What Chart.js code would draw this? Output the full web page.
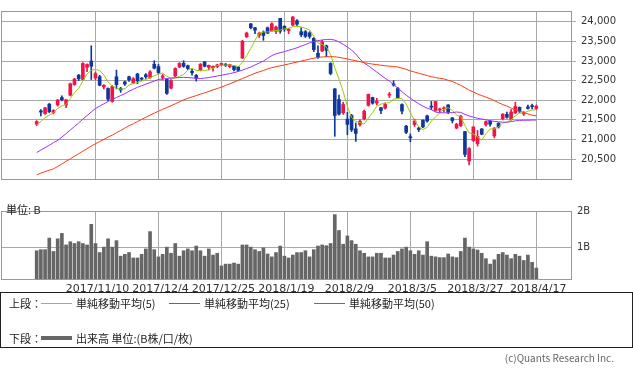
<!DOCTYPE html>
<html>
<head>
<meta charset="utf-8">
<script src="https://cdn.jsdelivr.net/npm/chart.js@4.4.0/dist/chart.umd.min.js"></script>
<style>
  body { margin: 0; background: #fff; width: 633px; height: 369px; overflow: hidden; position: relative;
         font-family: "Noto Sans CJK JP", sans-serif; color: #222; }
  canvas { position: absolute; left: 0; }
  #price { top: 0; }
  #volume { top: 200px; }
  .txt { position: absolute; font-size: 11px; white-space: nowrap; line-height: 12px; }
  #legend { position: absolute; left: 0; top: 292px; width: 631px; height: 54px; border: 1px solid #222; }
  .key { position: absolute; height: 1px; width: 31px; }
  #copy { position: absolute; right: 19px; top: 350px; font-size: 10px; color: #666; }
</style>
</head>
<body>
<canvas id="price" width="633" height="191"></canvas>
<canvas id="volume" width="633" height="96"></canvas>
<div class="txt" style="left:6px;top:203px;">単位: B</div>
<div id="legend">
  <div class="txt" style="left:8px;top:4px;">上段：</div>
  <div class="key" style="left:40px;top:10px;background:#99cc00;"></div>
  <div class="txt" style="left:75px;top:4px;">単純移動平均(5)</div>
  <div class="key" style="left:168px;top:10px;background:#9b30ff;"></div>
  <div class="txt" style="left:203px;top:4px;">単純移動平均(25)</div>
  <div class="key" style="left:313px;top:10px;background:#ff3a10;"></div>
  <div class="txt" style="left:348px;top:4px;">単純移動平均(50)</div>
  <div class="txt" style="left:8px;top:39px;">下段：</div>
  <div class="key" style="left:40px;top:43px;height:4px;background:#666;"></div>
  <div class="txt" style="left:75px;top:39px;">出来高 単位:(B株/口/枚)</div>
</div>
<div id="copy">(c)Quants Research Inc.</div>

<script>
'use strict';

// trading days shown
var days = [
  '2017/10/20','2017/10/23','2017/10/24','2017/10/25','2017/10/26','2017/10/27','2017/10/30','2017/10/31',
  '2017/11/1','2017/11/2','2017/11/6','2017/11/7','2017/11/8','2017/11/9','2017/11/10','2017/11/13',
  '2017/11/14','2017/11/15','2017/11/16','2017/11/17','2017/11/20','2017/11/21','2017/11/22','2017/11/24',
  '2017/11/27','2017/11/28','2017/11/29','2017/11/30','2017/12/1','2017/12/4','2017/12/5','2017/12/6',
  '2017/12/7','2017/12/8','2017/12/11','2017/12/12','2017/12/13','2017/12/14','2017/12/15','2017/12/18',
  '2017/12/19','2017/12/20','2017/12/21','2017/12/22','2017/12/25','2017/12/26','2017/12/27','2017/12/28',
  '2017/12/29','2018/1/4','2018/1/5','2018/1/9','2018/1/10','2018/1/11','2018/1/12','2018/1/15',
  '2018/1/16','2018/1/17','2018/1/18','2018/1/19','2018/1/22','2018/1/23','2018/1/24','2018/1/25',
  '2018/1/26','2018/1/29','2018/1/30','2018/1/31','2018/2/1','2018/2/2','2018/2/5','2018/2/6',
  '2018/2/7','2018/2/8','2018/2/9','2018/2/13','2018/2/14','2018/2/15','2018/2/16','2018/2/19',
  '2018/2/20','2018/2/21','2018/2/22','2018/2/23','2018/2/26','2018/2/27','2018/2/28','2018/3/1',
  '2018/3/2','2018/3/5','2018/3/6','2018/3/7','2018/3/8','2018/3/9','2018/3/12','2018/3/13',
  '2018/3/14','2018/3/15','2018/3/16','2018/3/19','2018/3/20','2018/3/22','2018/3/23','2018/3/26',
  '2018/3/27','2018/3/28','2018/3/29','2018/3/30','2018/4/2','2018/4/3','2018/4/4','2018/4/5',
  '2018/4/6','2018/4/9','2018/4/10','2018/4/11','2018/4/12','2018/4/13','2018/4/16','2018/4/17'
];

var tickLabels = ['2017/11/10', '2017/12/4', '2017/12/25', '2018/1/19', '2018/2/9', '2018/3/5', '2018/3/27', '2018/4/17'];
var priceTicks = [20500, 21000, 21500, 22000, 22500, 23000, 23500, 24000];
var volumeTicks = [1, 2];

var opens = [
  21390,21730,21660,21900,21690,21880,22070,21880,22130,22400,22640,22530,22840,23000,22570,22600,
  22340,22300,21970,22600,22300,22470,22600,22440,22670,22555,22650,22580,22920,22860,22585,22530,
  22310,22620,22850,22945,22880,22740,22634,22770,22980,22840,22830,22860,22900,22920,22860,22870,
  22850,23075,23620,23950,23850,23660,23740,23850,23770,23760,24090,23890,23780,23920,24030,23750,
  23750,23720,23580,23200,23260,23390,22940,22290,22020,21680,21520,21610,21270,21380,21530,21870,
  22070,21930,21810,21800,22130,22400,22300,21890,21340,21070,21380,21290,21490,21600,21830,21740,
  21750,21780,21880,21550,21290,21350,21200,20450,20970,20890,21268,21380,21470,21090,21410,21530,
  21640,21510,21680,21820,21650,21830,21860,21790
];
var highs = [
  21480,21760,21820,21920,21760,22020,22110,22020,22440,22560,22660,22960,22930,23390,22720,22640,
  22400,22320,22380,22770,22330,22490,22620,22580,22690,22580,22680,22760,23010,22920,22660,22540,
  22530,22830,22960,23010,22900,22790,22660,22940,22990,22900,22880,22920,22950,22940,22920,22880,
  22860,23530,23740,23960,23860,23740,23770,23870,23980,23890,24090,23900,23830,24140,24060,23850,
  23780,23750,23600,23390,23530,23410,22960,22300,22130,21950,21690,21640,21420,21500,21750,22160,
  22080,22050,21820,21920,22200,22500,22330,21910,21360,21140,21520,21310,21500,21620,21970,21970,
  21800,21830,21890,21560,21410,21620,21210,20790,21330,21230,21280,21470,21480,21300,21430,21660,
  21700,21760,21950,21830,21710,21880,21900,21880
];
var lows = [
  21350,21600,21640,21680,21650,21850,21980,21810,22110,22380,22500,22520,22730,22530,22520,22370,
  22290,21990,21950,22290,22200,22380,22480,22420,22420,22500,22560,22560,22800,22680,22520,22150,
  22290,22600,22830,22840,22780,22640,22487,22750,22850,22770,22740,22830,22880,22860,22830,22750,
  22740,23070,23600,23820,23700,23600,23530,23700,23760,23700,23710,23760,23700,23900,23900,23620,
  23600,23580,23240,23070,23240,23110,22650,21080,21620,21640,21120,21200,20950,21340,21500,21850,
  21900,21880,21660,21770,22070,22360,22060,21650,21150,20940,21330,21200,21300,21440,21760,21720,
  21690,21700,21660,21420,21270,21330,20560,20350,20950,20830,21120,21340,21340,21040,21290,21500,
  21540,21490,21660,21680,21610,21770,21780,21760
];
var closes = [
  21457,21697,21805,21708,21740,22008,22012,22012,22420,22539,22548,22938,22914,22869,22681,22381,
  22380,22028,22351,22397,22262,22416,22523,22551,22496,22540,22597,22725,22819,22707,22622,22177,
  22498,22811,22939,22866,22810,22700,22560,22920,22868,22891,22866,22903,22939,22893,22911,22784,
  22765,23506,23715,23850,23788,23710,23654,23715,23952,23868,23763,23808,23816,24124,23941,23669,
  23632,23629,23292,23098,23486,23275,22682,21610,21645,21891,21383,21245,21154,21465,21720,22149,
  21925,21971,21736,21893,22154,22390,22068,21724,21182,21042,21470,21253,21320,21469,21824,21968,
  21777,21804,21700,21481,21390,21592,20618,20766,21317,21080,21133,21454,21389,21292,21320,21645,
  21568,21700,21840,21720,21680,21790,21836,21848
];

var volumes = [
  0.90,0.93,0.93,1.25,0.88,1.23,1.38,1.06,1.15,1.10,1.15,1.10,1.06,1.63,1.10,0.85,
  1.00,1.23,1.00,1.18,0.75,0.80,0.85,0.70,0.70,0.80,0.95,1.43,0.93,0.73,0.80,1.00,
  0.83,1.10,0.75,0.90,0.95,0.90,1.03,0.90,0.75,0.95,0.78,0.83,0.48,0.53,0.53,0.56,
  0.53,1.06,1.06,1.00,0.93,0.88,0.98,0.81,0.73,0.85,1.03,0.75,0.70,0.78,0.85,0.85,
  0.90,0.73,0.93,1.03,1.06,1.04,1.10,1.90,1.46,1.08,1.31,1.18,1.08,0.90,0.83,0.73,
  0.73,0.83,0.83,0.70,0.70,0.78,0.88,0.95,1.00,0.90,0.80,0.90,0.78,1.15,0.75,0.73,
  0.71,0.71,0.81,0.73,0.71,0.88,1.25,1.00,0.95,0.92,0.83,0.68,0.53,0.65,0.80,0.85,
  0.78,0.68,0.80,0.75,0.63,0.78,0.58,0.42
];

var ma5 = [
  21372,21460,21554,21623,21681,21792,21855,21896,22038,22198,22306,22491,22672,22762,22790,22757,
  22645,22468,22364,22307,22284,22291,22390,22430,22450,22494,22531,22571,22625,22667,22694,22610,
  22565,22563,22609,22658,22774,22814,22762,22755,22755,22782,22816,22886,22894,22899,22902,22886,
  22858,22972,23136,23324,23525,23714,23743,23743,23764,23780,23790,23821,23841,23876,23890,23872,
  23836,23799,23633,23464,23427,23356,23167,22830,22540,22221,21842,21555,21464,21428,21393,21547,
  21683,21846,21900,21935,21936,22029,22048,22046,21904,21681,21487,21324,21253,21310,21466,21576,
  21681,21768,21810,21741,21624,21587,21350,21168,21135,21065,20985,21145,21270,21265,21323,21420,
  21443,21501,21601,21674,21677,21720,21751,21765
];
var ma25 = [
  20665,20730,20790,20850,20920,20975,21060,21150,21240,21330,21420,21520,21610,21700,21790,21850,
  21910,21970,22020,22070,22120,22170,22230,22280,22330,22370,22410,22450,22490,22530,22545,22555,
  22565,22575,22580,22585,22580,22570,22560,22555,22565,22580,22600,22620,22637,22660,22680,22705,
  22735,22770,22810,22850,22900,22950,23000,23070,23140,23185,23215,23240,23275,23305,23340,23380,
  23420,23465,23500,23520,23540,23550,23555,23535,23490,23430,23360,23280,23180,23050,22950,22880,
  22800,22720,22640,22560,22490,22400,22310,22220,22130,22050,21980,21910,21850,21800,21760,21700,
  21680,21680,21680,21685,21700,21690,21640,21600,21570,21540,21520,21500,21480,21460,21450,21440,
  21440,21455,21475,21485,21490,21490,21495,21495
];
var ma50 = [
  20100,20140,20180,20215,20250,20310,20375,20440,20505,20570,20635,20700,20765,20830,20890,20945,
  21000,21060,21110,21170,21230,21290,21350,21400,21455,21510,21565,21620,21670,21720,21770,21815,
  21860,21910,21960,22010,22050,22085,22120,22155,22190,22225,22265,22300,22335,22380,22420,22465,
  22510,22555,22600,22645,22690,22725,22760,22800,22833,22855,22880,22900,22925,22950,22975,23000,
  23025,23050,23074,23090,23105,23110,23112,23110,23095,23075,23055,23030,23010,22985,22960,22940,
  22923,22910,22895,22880,22870,22860,22850,22820,22790,22750,22720,22690,22660,22630,22600,22580,
  22560,22545,22510,22480,22430,22380,22320,22260,22210,22160,22120,22080,22040,21990,21940,21890,
  21850,21800,21760,21720,21690,21650,21620,21600
];

var upColor = '#f01448';
var downColor = '#10389a';
var gridColor = '#a8a8a8';
var tickIdx = tickLabels.map(function (t) { return days.indexOf(t); });

function points(arr) {
  return arr.map(function (v, i) { return { x: i, y: v }; });
}
function candleColor(ctx) {
  var i = ctx.dataIndex;
  return closes[i] >= opens[i] ? upColor : downColor;
}

var frame = {
  id: 'frame',
  afterDraw: function (chart) {
    var a = chart.chartArea, c = chart.ctx;
    c.save();
    c.strokeStyle = '#999';
    c.lineWidth = 1;
    c.strokeRect(Math.round(a.left) + 0.5, Math.round(a.top) + 0.5,
      Math.round(a.right - a.left) - 1, Math.round(a.bottom - a.top) - 1);
    c.restore();
  }
};

var xBase = {
  type: 'linear',
  offset: false,
  min: -8.5,
  max: 127.5,
  afterBuildTicks: function (s) { s.ticks = tickIdx.map(function (v) { return { value: v }; }); },
  grid: { color: gridColor, drawTicks: false, offset: false },
  border: { display: false }
};

var wicks = [], bodies = [];
for (var i = 0; i < closes.length; i++) {
  wicks.push({ x: i, y: [lows[i], highs[i]] });
  bodies.push({ x: i, y: [opens[i], closes[i]] });
}

new Chart(document.getElementById('price').getContext('2d'), {
  type: 'bar',
  data: {
    datasets: [
      { type: 'line', data: points(ma50), borderColor: '#ff3a10', borderWidth: 1, pointRadius: 0, order: 0 },
      { type: 'line', data: points(ma25), borderColor: '#9b30ff', borderWidth: 1, pointRadius: 0, order: 0 },
      { type: 'line', data: points(ma5), borderColor: '#99cc00', borderWidth: 1, pointRadius: 0, order: 0 },
      { data: bodies, backgroundColor: candleColor, barThickness: 3, minBarLength: 1, grouped: false, order: 1 },
      { data: wicks, backgroundColor: candleColor, barThickness: 1, grouped: false, order: 2 }
    ]
  },
  options: {
    responsive: false,
    animation: false,
    layout: { padding: { left: 1, top: 0, right: 0, bottom: 0 } },
    plugins: { legend: { display: false }, tooltip: { enabled: false } },
    scales: {
      x: Object.assign({}, xBase, { ticks: { display: false } }),
      y: {
        position: 'right',
        min: 19965,
        max: 24278,
        afterBuildTicks: function (s) { s.ticks = priceTicks.map(function (v) { return { value: v }; }); },
        afterFit: function (s) { s.width = 61; },
        grid: { color: gridColor, tickLength: 4 },
        border: { display: false },
        ticks: {
          padding: 5,
          color: '#333',
          font: { family: 'DejaVu Sans', size: 10 },
          callback: function (v) { return v.toLocaleString('en-US'); }
        }
      }
    }
  },
  plugins: [frame]
});

new Chart(document.getElementById('volume').getContext('2d'), {
  type: 'bar',
  data: {
    datasets: [
      { data: points(volumes), backgroundColor: '#666666', barThickness: 3 }
    ]
  },
  options: {
    responsive: false,
    animation: false,
    layout: { padding: { left: 1, top: 3, right: 0, bottom: 0 } },
    plugins: { legend: { display: false }, tooltip: { enabled: false } },
    scales: {
      x: Object.assign({}, xBase, {
        afterFit: function (s) { s.height = 16; },
        ticks: {
          padding: 3,
          labelOffset: 2,
          maxRotation: 0,
          autoSkip: false,
          color: '#333',
          font: { family: 'DejaVu Sans', size: 11 },
          callback: function (v) { return days[v]; }
        }
      }),
      y: {
        position: 'right',
        min: 0.09,
        max: 2,
        afterBuildTicks: function (s) { s.ticks = volumeTicks.map(function (v) { return { value: v }; }); },
        afterFit: function (s) { s.width = 61; },
        grid: { color: gridColor, drawTicks: false },
        border: { display: false },
        ticks: {
          padding: 5,
          color: '#333',
          font: { family: 'DejaVu Sans', size: 10 },
          callback: function (v) { return v + 'B'; }
        }
      }
    }
  },
  plugins: [frame]
});
</script>
</body>
</html>
